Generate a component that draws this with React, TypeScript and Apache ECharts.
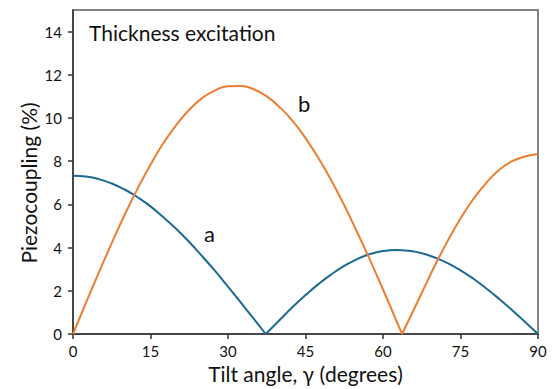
import React, { useEffect, useRef } from "react";
import * as echarts from "echarts";

const aAngles = [0, 2.5, 5, 7.5, 10, 12.5, 15, 17.5, 20, 22.5, 25, 27.5, 30, 32.5, 35, 37.3, 40, 42.5, 45, 47.5, 50, 52.5, 55, 57.5, 60, 62.5, 65, 67.5, 70, 72.5, 75, 77.5, 80, 82.5, 85, 87.5, 90];
const aValues = [7.33, 7.29, 7.17, 6.97, 6.69, 6.33, 5.91, 5.4, 4.86, 4.26, 3.6, 2.92, 2.19, 1.45, 0.7, 0, 0.65, 1.25, 1.8, 2.31, 2.76, 3.15, 3.47, 3.7, 3.84, 3.89, 3.85, 3.74, 3.54, 3.28, 2.95, 2.56, 2.11, 1.62, 1.1, 0.56, 0];

const bAngles = [0, 2.5, 5, 7.5, 10, 12.5, 15, 17.5, 20, 22.5, 25, 27.5, 30, 32.5, 35, 37.5, 40, 42.5, 45, 47.5, 50, 52.5, 55, 57.5, 60, 62.5, 63.7, 65, 67.5, 70, 72.5, 75, 77.5, 80, 82.5, 85, 87.5, 90];
const bValues = [0, 1.44, 2.84, 4.21, 5.52, 6.73, 7.84, 8.84, 9.68, 10.38, 10.92, 11.28, 11.47, 11.48, 11.33, 11.0, 10.5, 9.87, 9.07, 8.15, 7.11, 5.96, 4.71, 3.42, 2.06, 0.67, 0, 0.65, 1.9, 3.15, 4.3, 5.35, 6.25, 7.0, 7.6, 8.0, 8.22, 8.33];

const xTicks = [0, 15, 30, 45, 60, 75, 90];
const yTicks = [0, 2, 4, 6, 8, 10, 12, 14];

const FONT = "Lato";

// split a curve into lobes at its interior zero points (cusps)
function lobes(xs: number[], ys: number[]): number[][][] {
  const out: number[][][] = [];
  let cur: number[][] = [];
  xs.forEach((x, i) => {
    cur.push([x, ys[i]]);
    if (ys[i] === 0 && i > 0 && i < xs.length - 1) {
      out.push(cur);
      cur = [[x, ys[i]]];
    }
  });
  out.push(cur);
  return out;
}

export default function App() {
  const ref = useRef<HTMLDivElement>(null);
  useEffect(() => {
    document.body.style.margin = "0";
    const chart = echarts.init(ref.current!, null, { renderer: "svg" });
    const axisCommon = {
      axisLine: { show: true, lineStyle: { color: "#333", width: 1.5 } },
      axisTick: { show: true, inside: false, length: 5, lineStyle: { color: "#333", width: 1.5 } },
      splitLine: { show: false },
    };
    const mk = (name: string, color: string, xs: number[], ys: number[]) =>
      lobes(xs, ys).map((d) => ({
        name,
        type: "line",
        data: d,
        showSymbol: false,
        smooth: 0.5,
        lineStyle: { color, width: 2 },
        itemStyle: { color },
      }));
    chart.setOption({
      animation: false,
      grid: {
        left: 73,
        right: 16,
        top: 10,
        bottom: 53,
        show: true,
        borderColor: "#5a5a5a",
        borderWidth: 1.5,
        backgroundColor: "transparent",
      },
      xAxis: {
        type: "value",
        min: 0,
        max: 90,
        interval: 15,
        ...axisCommon,
        axisTick: { ...axisCommon.axisTick, customValues: xTicks },
        axisLabel: { customValues: xTicks, fontFamily: FONT, fontSize: 15, color: "#111", margin: 9 },
        name: "Tilt angle, \u03b3 (degrees)",
        nameLocation: "middle",
        nameGap: 29,
        nameTextStyle: { fontFamily: FONT, fontSize: 21, color: "#111" },
      },
      yAxis: {
        type: "value",
        min: 0,
        max: 15,
        interval: 2,
        ...axisCommon,
        axisTick: { ...axisCommon.axisTick, customValues: yTicks },
        axisLabel: { customValues: yTicks, fontFamily: FONT, fontSize: 15, color: "#111", margin: 11 },
      },
      series: [
        ...mk("a", "#1c6a94", aAngles, aValues),
        ...mk("b", "#ED7D31", bAngles, bValues),
      ],
      graphic: [
        {
          type: "text",
          x: 28,
          y: 183,
          rotation: Math.PI / 2,
          style: {
            text: "Piezocoupling (%)",
            font: `21px ${FONT}`,
            fill: "#111",
            align: "center",
            verticalAlign: "middle",
          },
        },
        {
          type: "text",
          left: 89,
          top: 22,
          style: { text: "Thickness excitation", font: `21px ${FONT}`, fill: "#111" },
        },
        {
          type: "text",
          left: 204,
          top: 222,
          style: { text: "a", font: `22px ${FONT}`, fill: "#111" },
        },
        {
          type: "text",
          left: 298,
          top: 92,
          style: { text: "b", font: `22px ${FONT}`, fill: "#111" },
        },
      ],
    });
    return () => chart.dispose();
  }, []);
  return <div ref={ref} style={{ width: 554, height: 389 }} />;
}
